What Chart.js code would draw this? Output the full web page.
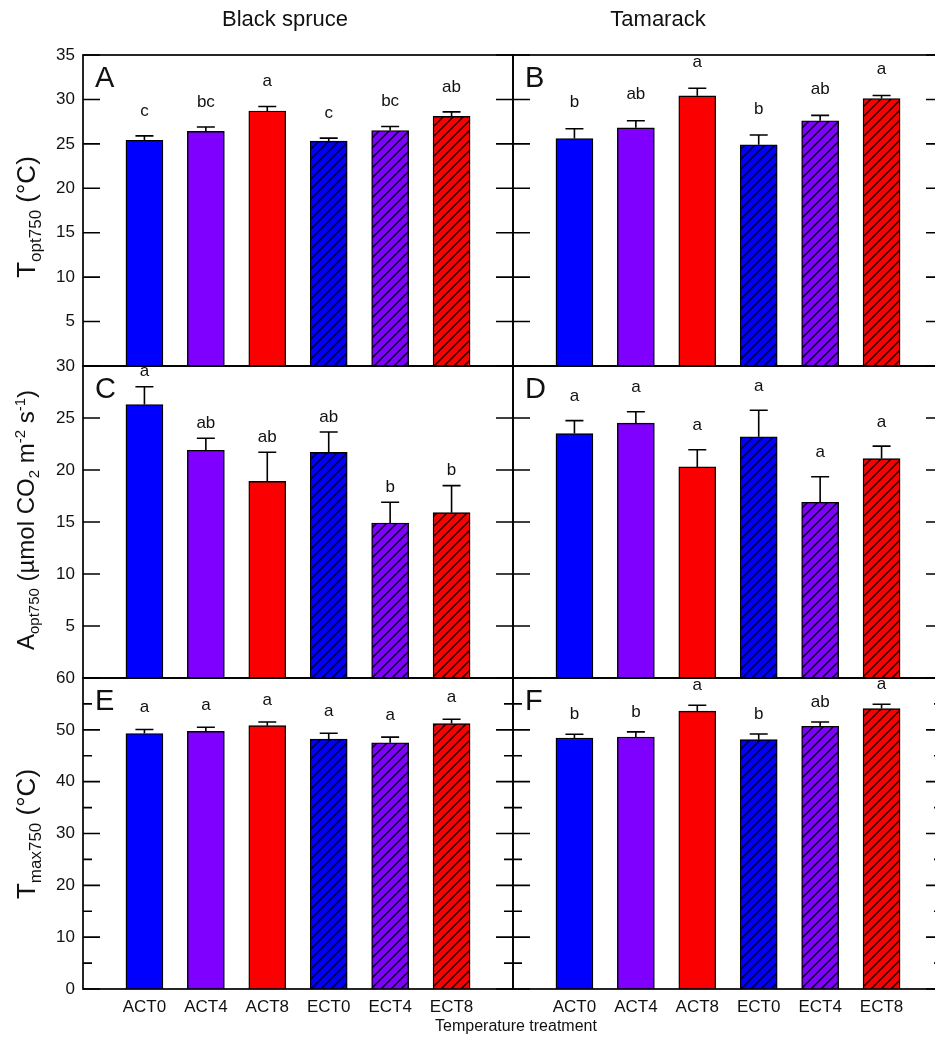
<!DOCTYPE html>
<html>
<head>
<meta charset="utf-8">
<script src="https://cdn.jsdelivr.net/npm/chart.js@4.4.1/dist/chart.umd.min.js"></script>
<style>
  body { margin: 0; background: #fff; overflow: hidden; }
  #wrap { position: relative; width: 935px; height: 1041px; overflow: hidden; background: #fff; }
  #wrap canvas { position: absolute; left: 0; top: 0; }
</style>
</head>
<body>
<div id="wrap"></div>
<script>
// treatments on the x axis
const categories = ['ACT0', 'ACT4', 'ACT8', 'ECT0', 'ECT4', 'ECT8'];

// Topt750 (°C)
const toptSpruce = [25.4, 26.4, 28.7, 25.3, 26.5, 28.1];
const toptSpruceErr = [0.5, 0.5, 0.5, 0.35, 0.45, 0.5];
const toptSpruceSig = ['c', 'bc', 'a', 'c', 'bc', 'ab'];
const toptTamarack = [25.6, 26.8, 30.4, 24.9, 27.6, 30.1];
const toptTamarackErr = [1.1, 0.8, 0.85, 1.1, 0.6, 0.35];
const toptTamarackSig = ['b', 'ab', 'a', 'b', 'ab', 'a'];

// Aopt750 (µmol CO2 m-2 s-1)
const aoptSpruce = [26.3, 21.9, 18.9, 21.7, 14.9, 15.9];
const aoptSpruceErr = [1.7, 1.15, 2.8, 1.95, 2.0, 2.6];
const aoptSpruceSig = ['a', 'ab', 'ab', 'ab', 'b', 'b'];
const aoptTamarack = [23.5, 24.5, 20.3, 23.2, 16.9, 21.1];
const aoptTamarackErr = [1.25, 1.1, 1.65, 2.55, 2.45, 1.2];
const aoptTamarackSig = ['a', 'a', 'a', 'a', 'a', 'a'];

// Tmax750 (°C)
const tmaxSpruce = [49.3, 49.7, 50.8, 48.2, 47.5, 51.2];
const tmaxSpruceErr = [0.75, 0.8, 0.7, 1.15, 1.1, 0.85];
const tmaxSpruceSig = ['a', 'a', 'a', 'a', 'a', 'a'];
const tmaxTamarack = [48.4, 48.6, 53.6, 48.1, 50.7, 54.1];
const tmaxTamarackErr = [0.75, 1.0, 1.15, 1.1, 0.8, 0.85];
const tmaxTamarackSig = ['b', 'b', 'a', 'b', 'ab', 'a'];

// y axis ticks
const toptTicks = [0, 5, 10, 15, 20, 25, 30, 35];
const aoptTicks = [0, 5, 10, 15, 20, 25, 30];
const tmaxTicks = [0, 10, 20, 30, 40, 50, 60];
const tmaxMinor = [5, 15, 25, 35, 45, 55];

const FONT = '"Liberation Sans", Arial, Helvetica, sans-serif';
const W = 943, H = 1041;
const BLUE = '#0000ff', PURPLE = '#7f00ff', RED = '#fa0000';

const wrap = document.getElementById('wrap');

function hatch(color) {
  const s = 10;
  const c = document.createElement('canvas');
  c.width = c.height = s;
  const g = c.getContext('2d');
  g.fillStyle = color;
  g.fillRect(0, 0, s, s);
  g.strokeStyle = '#000';
  g.lineWidth = 1.4;
  g.beginPath();
  g.moveTo(-1, s + 1); g.lineTo(s + 1, -1);
  g.moveTo(-s / 2 - 1, s / 2 + 1); g.lineTo(s / 2 + 1, -s / 2 - 1);
  g.moveTo(s / 2 - 1, s * 1.5 + 1); g.lineTo(s * 1.5 + 1, s / 2 - 1);
  g.stroke();
  return g.createPattern(c, 'repeat');
}
const fills = [null, BLUE, PURPLE, RED, hatch(BLUE), hatch(PURPLE), hatch(RED), null];

const pad = arr => [null, ...arr, null];

// frame, inward ticks, error bars, letters and labels for one panel
const panelPlugin = {
  id: 'panel',
  afterDatasetsDraw(chart, args, o) {
    const { ctx, scales: { x, y } } = chart;
    const vals = chart.data.datasets[0].data;
    ctx.save();
    ctx.strokeStyle = '#000';
    ctx.lineWidth = 1.6;
    ctx.fillStyle = '#111';
    ctx.font = '17px ' + FONT;
    ctx.textAlign = 'center';
    ctx.textBaseline = 'middle';
    vals.forEach((v, i) => {
      if (v == null) return;
      const px = x.getPixelForValue(i);
      const top = y.getPixelForValue(v);
      const cap = y.getPixelForValue(v + o.err[i]);
      ctx.beginPath();
      ctx.moveTo(px, top); ctx.lineTo(px, cap);
      ctx.moveTo(px - 9, cap); ctx.lineTo(px + 9, cap);
      ctx.stroke();
      ctx.fillText(o.sig[i], px, cap - o.sigOffset);
    });
    ctx.restore();
  },
  afterDraw(chart, args, o) {
    const { ctx, chartArea: a, scales: { x, y } } = chart;
    ctx.save();
    ctx.strokeStyle = '#000';
    ctx.lineWidth = 1.7;
    ctx.strokeRect(a.left, a.top, a.right - a.left, a.bottom - a.top);
    ctx.lineWidth = 1.6;
    ctx.beginPath();
    o.ticks.forEach(t => {
      const py = y.getPixelForValue(t);
      ctx.moveTo(a.left, py); ctx.lineTo(a.left + 17, py);
      ctx.moveTo(a.right, py); ctx.lineTo(a.right - 17, py);
    });
    (o.minor || []).forEach(t => {
      const py = y.getPixelForValue(t);
      ctx.moveTo(a.left, py); ctx.lineTo(a.left + 9, py);
      ctx.moveTo(a.right, py); ctx.lineTo(a.right - 9, py);
    });
    ctx.stroke();

    ctx.fillStyle = '#111';
    if (o.tickLabels) {
      ctx.font = '17px ' + FONT;
      ctx.textAlign = 'right';
      ctx.textBaseline = 'middle';
      o.ticks.forEach(t => {
        if (t === 0 && !o.showZero) return;
        ctx.fillText(String(t), a.left - 8, y.getPixelForValue(t));
      });
    }
    if (o.catLabels) {
      ctx.font = '17px ' + FONT;
      ctx.textAlign = 'center';
      ctx.textBaseline = 'middle';
      chart.data.labels.forEach((l, i) => {
        if (l) ctx.fillText(l, x.getPixelForValue(i), a.bottom + 18);
      });
    }
    ctx.font = '29px ' + FONT;
    ctx.textAlign = 'left';
    ctx.textBaseline = 'alphabetic';
    ctx.fillText(o.letter, a.left + 12, a.top + 32);
    if (o.extra) o.extra(ctx);
    ctx.restore();
  }
};

// text runs with sub/superscripts, rotated to read bottom-to-top
function drawRuns(ctx, runs, cx, cy) {
  let total = 0;
  runs.forEach(r => { ctx.font = r.size + 'px ' + FONT; r.w = ctx.measureText(r.t).width; total += r.w; });
  ctx.save();
  ctx.translate(cx, cy);
  ctx.rotate(-Math.PI / 2);
  ctx.textAlign = 'left';
  ctx.textBaseline = 'alphabetic';
  let xx = -total / 2;
  runs.forEach(r => {
    ctx.font = r.size + 'px ' + FONT;
    ctx.fillText(r.t, xx, r.dy || 0);
    xx += r.w;
  });
  ctx.restore();
}

function outerText(ctx) {
  ctx.fillStyle = '#111';
  ctx.font = '22px ' + FONT;
  ctx.textAlign = 'center';
  ctx.textBaseline = 'alphabetic';
  ctx.fillText('Black spruce', 285, 26);
  ctx.fillText('Tamarack', 658, 26);
  ctx.font = '16px ' + FONT;
  ctx.textBaseline = 'middle';
  ctx.fillText('Temperature treatment', 516, 1027);

  drawRuns(ctx, [
    { t: 'T', size: 26 }, { t: 'opt750', size: 17, dy: 6 }, { t: ' (°C)', size: 26 }
  ], 35, 217);
  drawRuns(ctx, [
    { t: 'A', size: 24 }, { t: 'opt750', size: 15, dy: 5 }, { t: ' (µmol CO', size: 24 },
    { t: '2', size: 15, dy: 5 }, { t: ' m', size: 24 }, { t: '-2', size: 15, dy: -9 },
    { t: ' s', size: 24 }, { t: '-1', size: 15, dy: -9 }, { t: ')', size: 24 }
  ], 34, 520);
  drawRuns(ctx, [
    { t: 'T', size: 26 }, { t: 'max750', size: 17, dy: 6 }, { t: ' (°C)', size: 26 }
  ], 35, 834);
}

const rows = [
  { top: 55, bottom: 366, max: 35, ticks: toptTicks },
  { top: 366, bottom: 678, max: 30, ticks: aoptTicks },
  { top: 678, bottom: 989, max: 60, ticks: tmaxTicks, minor: tmaxMinor, last: true }
];
const cols = [{ left: 83, right: 513 }, { left: 513, right: 943 }];

const panels = [
  { r: 0, c: 0, letter: 'A', vals: toptSpruce, err: toptSpruceErr, sig: toptSpruceSig, off: 25 },
  { r: 0, c: 1, letter: 'B', vals: toptTamarack, err: toptTamarackErr, sig: toptTamarackSig, off: 26 },
  { r: 1, c: 0, letter: 'C', vals: aoptSpruce, err: aoptSpruceErr, sig: aoptSpruceSig, off: 15 },
  { r: 1, c: 1, letter: 'D', vals: aoptTamarack, err: aoptTamarackErr, sig: aoptTamarackSig, off: 24 },
  { r: 2, c: 0, letter: 'E', vals: tmaxSpruce, err: tmaxSpruceErr, sig: tmaxSpruceSig, off: 22 },
  { r: 2, c: 1, letter: 'F', vals: tmaxTamarack, err: tmaxTamarackErr, sig: tmaxTamarackSig, off: 20 }
];

panels.forEach((p, k) => {
  const row = rows[p.r], col = cols[p.c];
  const cv = document.createElement('canvas');
  cv.width = W; cv.height = H;
  cv.style.width = W + 'px'; cv.style.height = H + 'px';
  wrap.appendChild(cv);
  new Chart(cv, {
    type: 'bar',
    data: {
      labels: ['', ...categories, ''],
      datasets: [{
        data: pad(p.vals),
        backgroundColor: fills,
        borderColor: '#000',
        borderWidth: 1.4,
        borderSkipped: 'start',
        barThickness: 37
      }]
    },
    options: {
      responsive: false,
      animation: false,
      events: [],
      layout: { padding: { left: col.left, right: W - col.right, top: row.top, bottom: H - row.bottom } },
      scales: {
        x: { display: false, offset: false, grid: { offset: false } },
        y: { display: false, min: 0, max: row.max }
      },
      plugins: {
        legend: { display: false },
        tooltip: { enabled: false },
        panel: {
          letter: p.letter,
          err: pad(p.err),
          sig: pad(p.sig),
          sigOffset: p.off,
          ticks: row.ticks,
          minor: row.minor,
          tickLabels: p.c === 0,
          showZero: !!row.last,
          catLabels: !!row.last,
          extra: k === 0 ? outerText : null
        }
      }
    },
    plugins: [panelPlugin]
  });
});
</script>
</body>
</html>
